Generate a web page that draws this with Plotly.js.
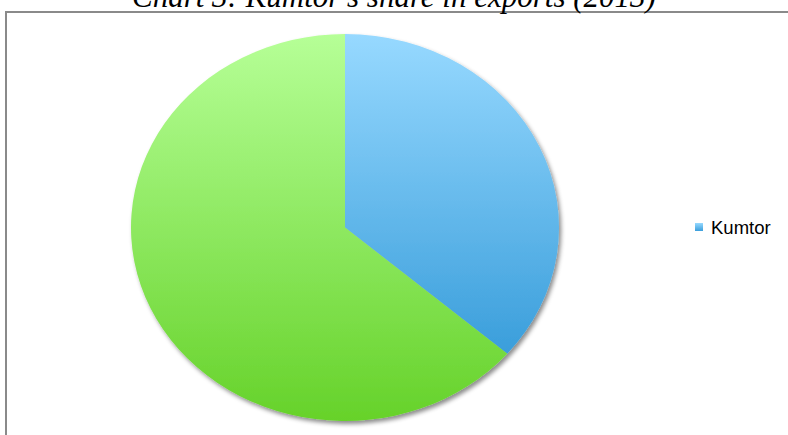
<!DOCTYPE html>
<html>
<head>
<meta charset="utf-8">
<script src="https://cdn.plot.ly/plotly-3.0.1.min.js"></script>
<style>
html,body{margin:0;padding:0;background:#fff;}
#chart{width:788px;height:435px;}
</style>
</head>
<body>
<div id="chart"></div>
<script>
// ---- data ----
const labels = ['Kumtor', 'Other exports'];
const shares = [36.3, 63.7];
const legendLabels = ['Kumtor'];
const titleText = "Chart 3: Kumtor's share in exports (2013)";
// ---- style ----
const baseColors = ['#6BBCEE', '#8EE45E'];
const gradTop = ['#97D9FF', '#B6FF97'];
const gradBottom = ['#3A9EDB', '#66D22A'];

const W = 788, H = 435;
const cxPx = 345, cyPx = 227.5, ry = 193.5, rx = 214;

const data = [{
  type: 'pie',
  labels: labels,
  values: shares,
  sort: false,
  direction: 'clockwise',
  rotation: 0,
  textinfo: 'none',
  hoverinfo: 'label+percent',
  marker: {colors: baseColors, line: {width: 0}},
  domain: {
    x: [(cxPx - ry) / W, (cxPx + ry) / W],
    y: [(H - cyPx - ry) / H, (H - cyPx + ry) / H]
  }
}];

const layout = {
  width: W, height: H,
  margin: {l: 0, r: 0, t: 0, b: 0, autoexpand: false},
  paper_bgcolor: '#ffffff',
  showlegend: true,
  legend: {
    x: 671 / W, xanchor: 'left',
    y: 1 - 241 / H, yanchor: 'middle',
    font: {family: 'Liberation Sans, Arial, sans-serif', size: 18.5, color: '#000'},
    bgcolor: 'rgba(0,0,0,0)'
  },
  annotations: [{
    text: titleText,
    xref: 'paper', yref: 'paper',
    x: 0.5, xanchor: 'center',
    y: 1 + 3.5 / H, yanchor: 'middle',
    showarrow: false,
    font: {family: 'Liberation Serif, serif', size: 31, style: 'italic', color: '#000'}
  }],
  shapes: [{
    type: 'rect', xref: 'paper', yref: 'paper',
    x0: 6 / W, x1: 1.02, y0: -0.02, y1: 1 - 12 / H,
    line: {color: '#8a8a8a', width: 2},
    fillcolor: 'rgba(0,0,0,0)', layer: 'below'
  }]
};

Plotly.newPlot('chart', data, layout, {displayModeBar: false, staticPlot: true}).then(function (gd) {
  const svg = gd.querySelector('svg.main-svg');
  const NS = 'http://www.w3.org/2000/svg';
  let defs = svg.querySelector('defs');
  if (!defs) { defs = document.createElementNS(NS, 'defs'); svg.insertBefore(defs, svg.firstChild); }
  for (let i = 0; i < labels.length; i++) {
    const g = document.createElementNS(NS, 'linearGradient');
    g.setAttribute('id', 'grad' + i);
    g.setAttribute('x1', '0'); g.setAttribute('y1', '0');
    g.setAttribute('x2', '0'); g.setAttribute('y2', '1');
    const s1 = document.createElementNS(NS, 'stop');
    s1.setAttribute('offset', '0'); s1.setAttribute('stop-color', gradTop[i]);
    const s2 = document.createElementNS(NS, 'stop');
    s2.setAttribute('offset', '1'); s2.setAttribute('stop-color', gradBottom[i]);
    g.appendChild(s1); g.appendChild(s2);
    defs.appendChild(g);
  }
  const f = document.createElementNS(NS, 'filter');
  f.setAttribute('id', 'pieShadow');
  f.setAttribute('x', '-10%'); f.setAttribute('y', '-10%');
  f.setAttribute('width', '130%'); f.setAttribute('height', '130%');
  const ds = document.createElementNS(NS, 'feDropShadow');
  ds.setAttribute('dx', '2'); ds.setAttribute('dy', '3');
  ds.setAttribute('stdDeviation', '2');
  ds.setAttribute('flood-color', '#000'); ds.setAttribute('flood-opacity', '0.45');
  f.appendChild(ds);
  defs.appendChild(f);

  // gradients on slices
  const slices = gd.querySelectorAll('.pielayer .slice path.surface');
  slices.forEach(function (p, i) {
    p.style.fill = 'url(#grad' + i + ')';
    p.style.stroke = 'none';
  });
  // stretch pie horizontally (reference pie is an ellipse)
  const trace = gd.querySelector('.pielayer .trace');
  if (trace) {
    const bb = trace.getBBox();
    const cx = bb.x + bb.width / 2;
    const sx = rx / ry;
    trace.setAttribute('transform', 'translate(' + cx + ',0) scale(' + sx + ',1) translate(' + (-cx) + ',0)');
    trace.setAttribute('filter', 'url(#pieShadow)');
  }
  // legend: keep only listed labels, gradient swatch
  gd.querySelectorAll('.legend .traces').forEach(function (t) {
    const txt = t.querySelector('text.legendtext');
    const name = txt ? txt.textContent : '';
    if (legendLabels.indexOf(name) < 0) { t.remove(); return; }
    const idx = labels.indexOf(name);
    const pt = t.querySelector('.legendpoints path');
    if (pt) {
      pt.setAttribute('d', 'M12,4V-4H4V4Z');
      pt.style.fill = 'url(#grad' + idx + ')';
      pt.style.stroke = 'none';
    }
  });
});
</script>
</body>
</html>
